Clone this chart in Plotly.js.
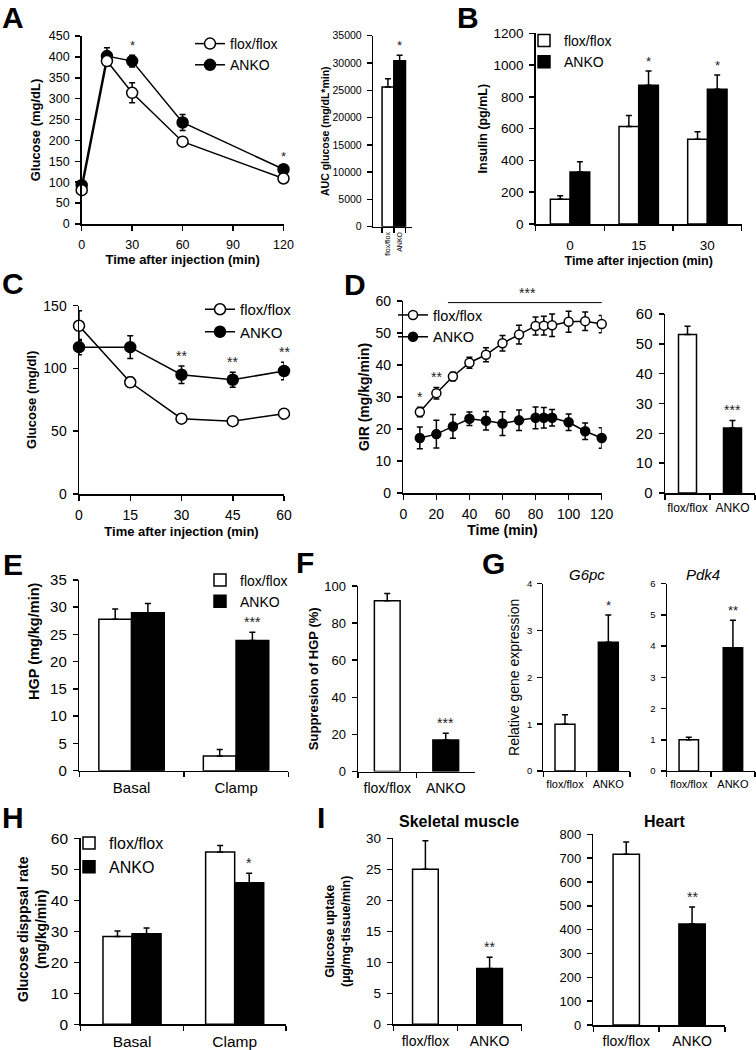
<!DOCTYPE html>
<html><head><meta charset="utf-8">
<script src="https://cdn.plot.ly/plotly-3.0.1.min.js"></script>
<style>html,body{margin:0;padding:0;background:#fff}</style>
</head><body><div id="chart" style="width:756px;height:1050px"></div>
<script>
// ---------------- data ----------------
// A: glucose tolerance
const gttTime=[0,15,30,60,120];
const gttFlox=[81,390,314,197,109];
const gttFloxErr=[5,12,24,10,5];
const gttAnko=[93,402,390,243,131];
const gttAnkoErr=[6,20,14,19,8];
const gttStars=['','','*','','*'];
// A: AUC
const aucGroups=['flox/flox','ANKO'];
const aucVals=[25600,30400];
const aucErr=[1500,1000];
const aucStars=['','*'];
// B: insulin
const insTime=[0,15,30];
const insFlox=[155,613,533];
const insFloxErr=[23,69,48];
const insAnko=[327,873,848];
const insAnkoErr=[65,90,90];
const insStars=['','*','*'];
// C: insulin tolerance
const ittTime=[0,15,30,45,60];
const ittFlox=[134,89,60,58,64];
const ittFloxErr=[12,4,2,1,4];
const ittAnko=[117,117,95,91,98];
const ittAnkoErr=[6,9,7,6,7];
const ittStars=['','','**','**','**'];
// D: glucose infusion rate
const girTime=[10,20,30,40,50,60,70,80,85,90,100,110,120];
const girFlox=[25.3,31.2,36.4,40.7,43.2,46.8,49.5,52.2,52.3,52.4,53.5,53.7,52.8];
const girFloxErr=[1.5,1.8,1.3,1.7,2.2,2.4,2.9,2.8,2.9,3.5,3.3,2.9,2.7];
const girAnko=[17.2,18.4,20.8,23.2,22.6,21.7,22.7,23.5,23.5,23.5,22.1,19.3,17.2];
const girAnkoErr=[3.4,4.3,3.7,2.1,2.9,3.7,3.2,3.4,3.2,2.6,2.6,2.6,3.2];
const girStars=['*','**','','','','','','','','','','',''];
const girSpan=[27,123];
const girSpanLabel='***';
const groups=['flox/flox','ANKO'];
const girMean=[53.1,21.8];
const girMeanErr=[2.8,2.5];
const girMeanStars=['','***'];
// E: HGP
const conds=['Basal','Clamp'];
const hgpFlox=[27.8,2.7];
const hgpFloxErr=[1.9,1.2];
const hgpAnko=[29.0,23.9];
const hgpAnkoErr=[1.7,1.5];
const hgpStars=['','***'];
// F: suppression of HGP
const supVals=[92,17];
const supErr=[4,3.6];
const supStars=['','***'];
// G: gene expression
const g6Vals=[1.0,2.75];
const g6Err=[0.2,0.58];
const g6Stars=['','*'];
const pdkVals=[1.0,3.95];
const pdkErr=[0.08,0.88];
const pdkStars=['','**'];
// H: glucose disposal
const gdrFlox=[28.3,55.6];
const gdrFloxErr=[1.8,2.1];
const gdrAnko=[29.2,45.7];
const gdrAnkoErr=[1.9,3.0];
const gdrStars=['','*'];
// I: glucose uptake
const smVals=[25.0,9.0];
const smErr=[4.6,1.8];
const smStars=['','**'];
const heartVals=[716,424];
const heartErr=[52,71];
const heartStars=['','**'];

// ---------------- helpers ----------------
const F='Liberation Sans, Arial, Helvetica, sans-serif';
const W=756,H=1050;
const dx=(a,b)=>[a/W,b/W];
const dy=(t,b)=>[1-b/H,1-t/H];
const sid=n=>n===1?'':String(n);
const layout={width:W,height:H,margin:{l:0,r:0,t:0,b:0},paper_bgcolor:'#fff',plot_bgcolor:'rgba(0,0,0,0)',
  showlegend:true,barmode:'overlay',hovermode:false,annotations:[],shapes:[],font:{family:F,color:'#000'}};
const data=[];

function axisBase(o){
  return Object.assign({showline:true,linecolor:'#000',linewidth:1.5,ticks:'outside',ticklen:5,tickwidth:1.5,
    tickcolor:'#000',showgrid:false,zeroline:false,fixedrange:true,ticklabelstandoff:3,
    tickfont:{family:F,size:12,color:'#000'}},o);
}
function axes(n,xpx,ypx,xo,yo){
  layout['xaxis'+sid(n)]=axisBase(Object.assign({domain:dx(xpx[0],xpx[1]),anchor:'y'+sid(n)},xo));
  layout['yaxis'+sid(n)]=axisBase(Object.assign({domain:dy(ypx[0],ypx[1]),anchor:'x'+sid(n)},yo));
}
function tf(size){return {family:F,size:size,color:'#000'};}
function ttl(text,size,standoff){return {text:text,font:tf(size),standoff:standoff};}
function lineTrace(n,x,y,err,filled,name,leg,rank,size){
  data.push({type:'scatter',mode:'lines+markers',x:x,y:y,name:name,legend:leg,legendrank:rank,
    xaxis:'x'+sid(n),yaxis:'y'+sid(n),cliponaxis:false,
    line:{color:'#000',width:1.5},
    marker:{symbol:'circle',size:size,color:filled?'#000':'#fff',line:{color:'#000',width:1.5}},
    error_y:{type:'data',array:err,visible:true,color:'#000',thickness:1.5,width:3}});
}
function barTrace(n,x,y,err,color,w,off,name,leg){
  const zeros=err.map(()=>0);
  data.push({type:'bar',x:x,y:y,name:name||'',legend:leg,showlegend:!!name,width:w,offset:off,
    xaxis:'x'+sid(n),yaxis:'y'+sid(n),
    marker:{color:color,line:{color:'#000',width:1.5}},
    error_y:{type:'data',symmetric:false,array:err,arrayminus:zeros,visible:true,color:'#000',thickness:1.5,width:3}});
}
function stars(n,xs,ys,errs,labels,size,xshift){
  labels.forEach((s,i)=>{ if(!s) return;
    layout.annotations.push({xref:'x'+sid(n),yref:'y'+sid(n),x:xs[i],y:ys[i]+errs[i],text:s,showarrow:false,
      yanchor:'bottom',xanchor:'center',xshift:xshift||0,yshift:0,font:{family:F,size:size,color:'#222'}});
  });
}
function label(text,xp,yp,size,extra){
  layout.annotations.push(Object.assign({xref:'paper',yref:'paper',x:xp/W,y:1-yp/H,text:text,showarrow:false,
    xanchor:'center',yanchor:'middle',font:tf(size)},extra||{}));
}
function legend(key,xp,yp,size){
  layout[key]={x:xp/W,y:1-yp/H,xanchor:'left',yanchor:'top',bgcolor:'rgba(0,0,0,0)',borderwidth:0,
    font:tf(size),itemclick:false,itemdoubleclick:false,tracegroupgap:0};
}

// ---------------- A ----------------
axes(1,[81.7,283.5],[36,224],
  {range:[0,120],tickvals:[0,30,60,90,120],tickfont:tf(12.5),title:ttl('<b>Time after injection (min)</b>',13,4)},
  {range:[0,450],dtick:50,tickfont:tf(12.5),title:ttl('<b>Glucose (mg/dL)</b>',13,5)});
lineTrace(1,gttTime,gttAnko,gttAnkoErr,true,'ANKO','legend',2,11);
lineTrace(1,gttTime,gttFlox,gttFloxErr,false,'flox/flox','legend',1,11);
stars(1,gttTime,gttAnko,gttAnkoErr,gttStars,13);
legend('legend',190,28,14);

axes(2,[373.3,411.7],[35.7,226.7],
  {type:'category',range:[-1.25,2.03],tickson:'boundaries',tickangle:-90,tickfont:tf(7),ticklabelstandoff:1},
  {range:[0,35000],dtick:5000,tickformat:'d',tickfont:tf(10.5),title:ttl('<b>AUC glucose (mg/dL*min)</b>',10.5,1)});
barTrace(2,aucGroups,aucVals,aucErr,['#fff','#000'],1,-0.5);
stars(2,aucGroups,aucVals,aucErr,aucStars,13);

// ---------------- B ----------------
axes(3,[535.7,741.7],[33.3,224],
  {range:[-7.5,37.5],tickvals:insTime,ticks:'',ticklabelstandoff:8,tickfont:tf(13.5),
   minor:{tick0:-7.5,dtick:15,ticks:'outside',ticklen:5,tickwidth:1.5,tickcolor:'#000',showgrid:false},
   title:ttl('<b>Time after injection (min)</b>',12.5,4)},
  {range:[0,1200],dtick:200,tickfont:tf(13.5),title:ttl('<b>Insulin (pg/mL)</b>',12.5,3)});
barTrace(3,insTime,insFlox,insFloxErr,'#fff',4.3,-4.3,'flox/flox','legend2');
barTrace(3,insTime,insAnko,insAnkoErr,'#000',4.3,0,'ANKO','legend2');
stars(3,insTime,insAnko,insAnkoErr,insStars,13,10);
legend('legend2',524,25,14);

// ---------------- C ----------------
axes(4,[79,284],[305.7,494],
  {range:[0,60],tickvals:[0,15,30,45,60],tickfont:tf(14),title:ttl('<b>Time after injection (min)</b>',13,4)},
  {range:[0,150],dtick:50,tickfont:tf(14),title:ttl('<b>Glucose (mg/dl)</b>',13,4)});
lineTrace(4,ittTime,ittAnko,ittAnkoErr,true,'ANKO','legend3',2,11);
lineTrace(4,ittTime,ittFlox,ittFloxErr,false,'flox/flox','legend3',1,11);
stars(4,ittTime,ittAnko,ittAnkoErr,ittStars,14);
legend('legend3',200,293,15);

// ---------------- D ----------------
axes(5,[403.3,601.7],[301,493],
  {range:[0,120],dtick:20,tickfont:tf(14),title:ttl('<b>Time (min)</b>',14,4)},
  {range:[0,60],dtick:10,tickfont:tf(14),title:ttl('<b>GIR (mg/kg/min)</b>',14,2)});
lineTrace(5,girTime,girAnko,girAnkoErr,true,'ANKO','legend4',2,9);
lineTrace(5,girTime,girFlox,girFloxErr,false,'flox/flox','legend4',1,9);
stars(5,girTime,girFlox,girFloxErr,girStars,14);
legend('legend4',393,299,14.5);
layout.shapes.push({type:'line',xref:'x5',yref:'y5',x0:girSpan[0],x1:girSpan[1],y0:59.5,y1:59.5,line:{color:'#000',width:1}});
layout.annotations.push({xref:'x5',yref:'y5',x:(girSpan[0]+girSpan[1])/2,y:59.5,text:girSpanLabel,showarrow:false,yanchor:'bottom',font:{family:F,size:14,color:'#222'}});

axes(6,[665,755],[314,493],
  {type:'category',tickson:'boundaries',tickangle:0,tickfont:tf(12)},
  {range:[0,60],dtick:10,tickfont:tf(15)});
barTrace(6,groups,girMean,girMeanErr,['#fff','#000'],0.4,-0.2);
stars(6,groups,girMean,girMeanErr,girMeanStars,14);

// ---------------- E ----------------
axes(7,[79.3,288.3],[580,770.7],
  {type:'category',tickson:'boundaries',tickangle:0,tickfont:tf(15)},
  {range:[0,35],dtick:5,tickfont:tf(15)});
barTrace(7,conds,hgpFlox,hgpFloxErr,'#fff',0.313,-0.313,'flox/flox','legend5');
barTrace(7,conds,hgpAnko,hgpAnkoErr,'#000',0.313,0,'ANKO','legend5');
stars(7,conds,hgpAnko,hgpAnkoErr,hgpStars,14,16);
legend('legend5',200,564.5,14);
label('<b>HGP (mg/kg/min)</b>',34,641,14.5,{textangle:-90});

// ---------------- F ----------------
axes(8,[358,475],[586,771.5],
  {type:'category',tickson:'boundaries',tickangle:0,tickfont:tf(14)},
  {range:[0,100],dtick:20,tickfont:tf(13),title:ttl('<b>Suppresion of HGP (%)</b>',13,2)});
barTrace(8,groups,supVals,supErr,['#fff','#000'],0.44,-0.22);
stars(8,groups,supVals,supErr,supStars,14);

// ---------------- G ----------------
axes(9,[543.3,630],[583.7,771],
  {type:'category',tickson:'boundaries',tickangle:0,linewidth:1.2,tickfont:tf(11)},
  {range:[0,4],dtick:1,linewidth:1.2,tickfont:tf(9.5),title:ttl('Relative gene expression',14,4)});
barTrace(9,groups,g6Vals,g6Err,['#fff','#000'],0.46,-0.23);
stars(9,groups,g6Vals,g6Err,g6Stars,13);
axes(10,[666.7,755],[583.7,771],
  {type:'category',tickson:'boundaries',tickangle:0,linewidth:1.2,tickfont:tf(11)},
  {range:[0,6],dtick:1,linewidth:1.2,tickfont:tf(9.5)});
barTrace(10,groups,pdkVals,pdkErr,['#fff','#000'],0.44,-0.22);
stars(10,groups,pdkVals,pdkErr,pdkStars,13);
label('<i>G6pc</i>',586.7,574,15);
label('<i>Pdk4</i>',702.7,574,15);

// ---------------- H ----------------
axes(11,[80.7,286],[838.3,1024.3],
  {type:'category',tickson:'boundaries',tickangle:0,tickfont:tf(15.5)},
  {range:[0,60],dtick:10,tickfont:tf(15.5)});
barTrace(11,conds,gdrFlox,gdrFloxErr,'#fff',0.283,-0.283,'flox/flox','legend6');
barTrace(11,conds,gdrAnko,gdrAnkoErr,'#000',0.283,0,'ANKO','legend6');
stars(11,conds,gdrAnko,gdrAnkoErr,gdrStars,14,14.5);
legend('legend6',69,826,16);
label('<b>Glucose disppsal rate<br>(mg/kg/min)</b>',32,929,14,{textangle:-90});

// ---------------- I ----------------
axes(12,[393.3,521.7],[838.3,1024.3],
  {type:'category',tickson:'boundaries',tickangle:0,tickfont:tf(14)},
  {range:[0,30],dtick:5,tickfont:tf(13.5),title:ttl('<b>Glucose uptake<br>(µg/mg-tissue/min)</b>',12.5,12)});
barTrace(12,groups,smVals,smErr,['#fff','#000'],0.4,-0.2);
stars(12,groups,smVals,smErr,smStars,14);
axes(13,[593.3,725],[834.3,1025],
  {type:'category',tickson:'boundaries',tickangle:0,tickfont:tf(14)},
  {range:[0,800],dtick:100,tickfont:tf(13)});
barTrace(13,groups,heartVals,heartErr,['#fff','#000'],0.4,-0.2);
stars(13,groups,heartVals,heartErr,heartStars,14);
label('<b>Skeletal muscle</b>',459.3,821.7,16);
label('<b>Heart</b>',665,821.7,16);

// ---------------- panel letters ----------------
[['A',12.5,18],['B',467.5,18],['C',12.5,283],['D',355,285],['E',12.5,564],['F',305,562],['G',493,563],['H',12.5,817],['I',321,817]]
  .forEach(p=>label('<b>'+p[0]+'</b>',p[1],p[2],30));

Plotly.newPlot('chart',data,layout,{staticPlot:true,displayModeBar:false});
</script></body></html>
